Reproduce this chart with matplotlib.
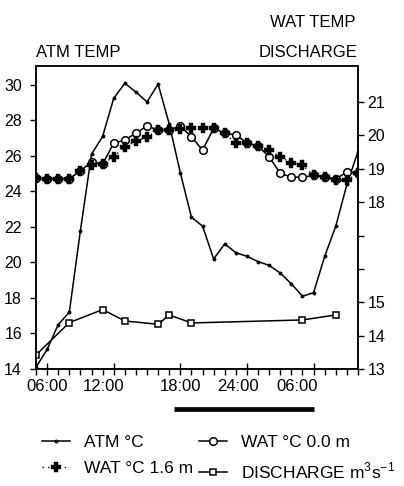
import matplotlib
matplotlib.use("Agg")
import matplotlib.pyplot as plt

plt.rcParams['font.family'] = ['Liberation Sans', 'DejaVu Sans']
plt.rcParams['mathtext.fontset'] = 'custom'
plt.rcParams['mathtext.rm'] = 'Liberation Sans'

# hours since 05:00 (hourly readings)
hours = list(range(30))

# air temperature, left axis
atm_temp = [14.1, 15.1, 16.5, 17.2, 21.8, 26.1, 27.1, 29.25, 30.1, 29.6,
            29.05, 30.05, 27.8, 25.05, 22.55, 22.05, 20.2, 21.05, 20.55, 20.35,
            20.05, 19.84, 19.4, 18.8, 18.1, 18.3, 20.35, 22.05, 24.4, 26.25]

# water temperature at 0.0 m and 1.6 m, right axis
wat_00 = [18.72, 18.70, 18.70, 18.70, 18.94, 19.2, 19.14, 19.77, 19.86, 20.07,
          20.28, 20.16, 20.17, 20.28, 19.96, 19.56, 20.21, 20.07, 20.01, 19.78,
          19.68, 19.36, 18.86, 18.75, 18.75, 18.80, 18.75, 18.70, 18.90, 18.87]
wat_16 = [18.72, 18.70, 18.70, 18.70, 18.94, 19.12, 19.14, 19.36, 19.66, 19.82,
          19.96, 20.16, 20.17, 20.19, 20.22, 20.21, 20.21, 20.07, 19.76, 19.78,
          19.68, 19.56, 19.36, 19.17, 19.11, 18.80, 18.75, 18.66, 18.65, 18.87]

# discharge, right axis (sparse readings)
dis_hours = [0, 3, 6, 8, 11, 12, 14, 24, 27]
discharge = [13.42, 14.39, 14.78, 14.44, 14.34, 14.62, 14.38, 14.47, 14.62]

# dark period
night = [12.4, 25.0]

tick_hours = [1, 7, 13, 19, 25]
label_pos = [1.0, 6.1, 13.0, 18.2, 23.5]
time_labels = ['06:00', '12:00', '18:00', '24:00', '06:00']
left_ticks = [14, 16, 18, 20, 22, 24, 26, 28, 30]
right_ticks = list(range(13, 22))
right_labels = ['13', '14', '15', '', '', '18', '19', '20', '21']

fig = plt.figure(figsize=(4.04, 4.86), dpi=100)
ax = fig.add_axes([36 / 404, 1 - 369 / 486, 322 / 404, 303 / 486])
ax2 = ax.twinx()

l_atm, = ax.plot(hours, atm_temp, color='black', lw=1.1, marker='o',
                 markersize=1.8, label='ATM °C')
l_w00, = ax2.plot(hours, wat_00, color='black', lw=1.1, marker='o',
                  markersize=5.5, markerfacecolor='white',
                  markeredgewidth=1.1, label='WAT °C 0.0 m', zorder=3)
l_w16, = ax2.plot(hours, wat_16, color='black', lw=1.0, ls=(0, (1, 3)),
                  marker='P', markersize=7, markeredgewidth=0.3,
                  label='WAT °C 1.6 m', zorder=4)
l_dis, = ax2.plot(dis_hours, discharge, color='black', lw=1.1, marker='s',
                  markersize=4.5, markerfacecolor='white',
                  markeredgewidth=1.1, label='DISCHARGE m$^3$s$^{-1}$')

ax.set_xlim(0, 29)
ax.set_ylim(14, 31.07)
ax2.set_ylim(13, 22.08)

ax.set_yticks(left_ticks)
ax.tick_params(axis='y', direction='out', length=4, width=1, pad=6,
               labelsize=11.5)
ax2.set_yticks(right_ticks, right_labels)
ax2.tick_params(axis='y', direction='out', length=4, width=1, pad=3,
                labelsize=11.5)

ax.set_xticks(tick_hours, [''] * len(tick_hours))
ax.set_xticks(hours, minor=True)
ax.tick_params(axis='x', which='major', direction='inout', length=9, width=1)
ax.tick_params(axis='x', which='minor', direction='out', length=4, width=1)

sec = ax.secondary_xaxis('bottom')
sec.set_xticks(label_pos, time_labels)
sec.tick_params(length=0, pad=7, labelsize=12)
sec.spines['bottom'].set_visible(False)

for a in (ax, ax2):
    for s in a.spines.values():
        s.set_linewidth(1.1)

# dark period bar below the axis
ax.plot(night, [-0.132, -0.132], transform=ax.get_xaxis_transform(),
        color='black', lw=3.4, solid_capstyle='butt', clip_on=False)

fig.text(36 / 404, 1 - 57 / 486, 'ATM TEMP', fontsize=12, va='baseline')
fig.text(358 / 404, 1 - 57 / 486, 'DISCHARGE', fontsize=12, va='baseline',
         ha='right')
fig.text(355 / 404, 1 - 27 / 486, 'WAT TEMP', fontsize=12, va='baseline',
         ha='right')

fig.legend(handles=[l_atm, l_w16, l_w00, l_dis], ncol=2, frameon=False,
           loc='upper left', bbox_to_anchor=(42 / 404, 1 - 435 / 486),
           borderaxespad=0, borderpad=0, fontsize=12.5, handlelength=1.6,
           handletextpad=0.8, columnspacing=0.35, labelspacing=0.62)

fig.savefig('out.png', dpi=100)
